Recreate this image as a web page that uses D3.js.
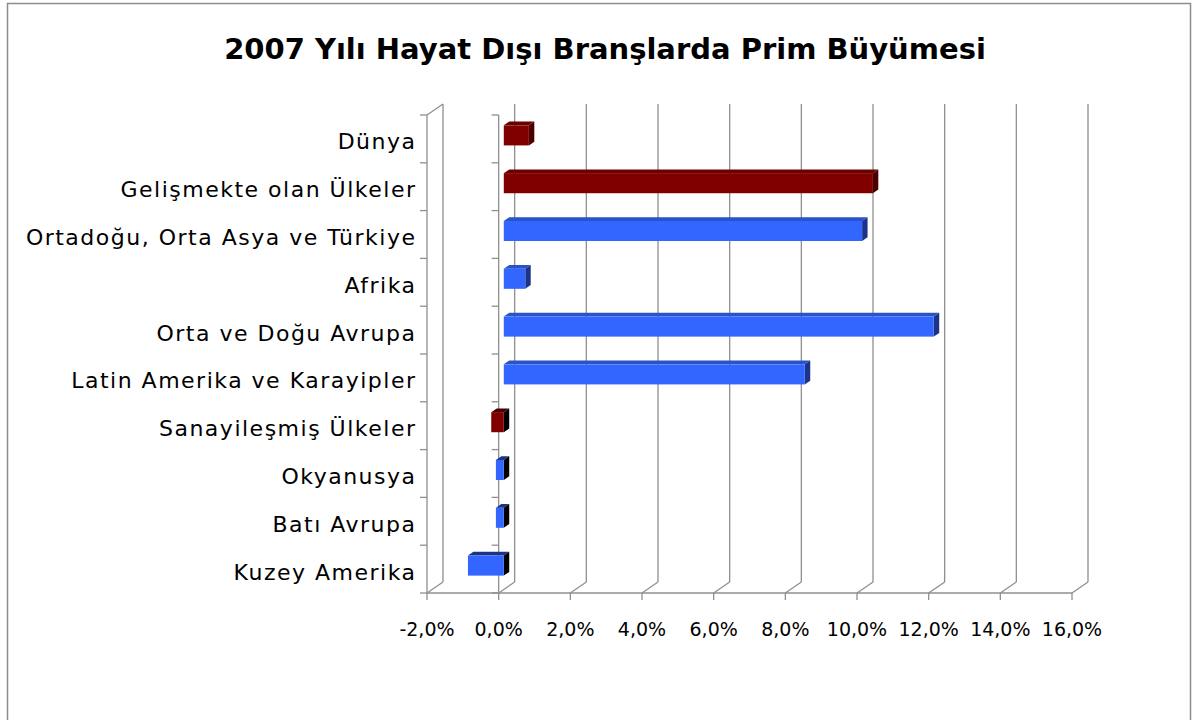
<!DOCTYPE html>
<html>
<head>
    <meta charset="utf-8">
    <title>2007 Yılı Hayat Dışı Branşlarda Prim Büyümesi</title>
    <script src="https://d3js.org/d3.v7.min.js"></script>
    <style>
        body { margin: 0; background: #fff; }
        text { font-family: "DejaVu Sans", Verdana, sans-serif; }
    </style>
</head>
<body>
    <svg id="chart"></svg>

    <script>
        // Data values
        const categories = [
            'Dünya', 'Gelişmekte olan Ülkeler', 'Ortadoğu, Orta Asya ve Türkiye', 'Afrika',
            'Orta ve Doğu Avrupa', 'Latin Amerika ve Karayipler', 'Sanayileşmiş Ülkeler',
            'Okyanusya', 'Batı Avrupa', 'Kuzey Amerika'
        ];
        const values = [0.7, 10.3, 10.0, 0.6, 12.0, 8.4, -0.35, -0.22, -0.22, -1.0];
        const groups = ['agg', 'agg', 'reg', 'reg', 'reg', 'reg', 'agg', 'reg', 'reg', 'reg'];
        const ticks = [-2, 0, 2, 4, 6, 8, 10, 12, 14, 16];

        const width = 1196;
        const height = 720;

        // colours per group: front, top, side
        const palette = {
            reg: { front: '#3366ff', top: '#2a52c9', side: '#1c3488' },
            agg: { front: '#800000', top: '#6a0000', side: '#4a0000' }
        };

        // depth of the 3D box
        const depthX = 16, depthY = -11;

        const x = d3.scaleLinear().domain([-2, 16]).range([427, 1072]);
        const y = d3.scaleBand().domain(categories).range([115, 593]);

        const svg = d3.select('#chart')
            .attr('width', width)
            .attr('height', height);

        // outer frame
        svg.append('rect')
            .attr('x', 7.5).attr('y', 3.5)
            .attr('width', 1183).attr('height', 730)
            .attr('fill', 'none').attr('stroke', '#8c8c8c').attr('stroke-width', 1.5);

        // title
        svg.append('text')
            .attr('x', 605).attr('y', 59)
            .attr('text-anchor', 'middle')
            .attr('font-size', 29).attr('font-weight', 'bold')
            .text('2007 Yılı Hayat Dışı Branşlarda Prim Büyümesi');

        const grid = svg.append('g')
            .attr('stroke', '#8f8f8f').attr('stroke-width', 1.3).attr('fill', 'none');

        // back wall gridlines
        grid.selectAll('.grid')
            .data(ticks)
            .enter()
            .append('line')
            .attr('x1', d => x(d) + depthX).attr('x2', d => x(d) + depthX)
            .attr('y1', y.range()[0] + depthY).attr('y2', y.range()[1] + depthY);

        // floor diagonals
        grid.selectAll('.floor')
            .data(ticks)
            .enter()
            .append('line')
            .attr('x1', d => x(d)).attr('x2', d => x(d) + depthX)
            .attr('y1', y.range()[1]).attr('y2', y.range()[1] + depthY);

        // side wall
        grid.append('line')
            .attr('x1', x(-2)).attr('x2', x(-2))
            .attr('y1', y.range()[0]).attr('y2', y.range()[1]);
        grid.append('line')
            .attr('x1', x(-2)).attr('x2', x(-2) + depthX)
            .attr('y1', y.range()[0]).attr('y2', y.range()[0] + depthY);

        // bottom axis line and ticks
        grid.append('line')
            .attr('x1', x(-2)).attr('x2', x(16))
            .attr('y1', y.range()[1]).attr('y2', y.range()[1]);
        grid.selectAll('.xtick')
            .data(ticks)
            .enter()
            .append('line')
            .attr('x1', d => x(d)).attr('x2', d => x(d))
            .attr('y1', y.range()[1]).attr('y2', y.range()[1] + 7);

        // category axis at zero, plus ticks on the side wall
        const bounds = categories.map(c => y(c)).concat([y.range()[1]]);
        grid.append('line')
            .attr('x1', x(0)).attr('x2', x(0))
            .attr('y1', y.range()[0]).attr('y2', y.range()[1]);
        [x(-2), x(0)].forEach(px => {
            grid.selectAll(null)
                .data(bounds)
                .enter()
                .append('line')
                .attr('x1', px - 7).attr('x2', px)
                .attr('y1', d => d).attr('y2', d => d);
        });

        // bars as 3D boxes
        const f0 = 0.32, f1 = 0.66;   // front and back depth of the bar
        const barH = y.bandwidth() * 0.42;
        const bars = categories.map((c, i) => {
            const v = values[i];
            const cy = y(c) + y.bandwidth() / 2;
            const xa = x(Math.min(0, v)), xb = x(Math.max(0, v));
            return { c, v, g: groups[i], xa, xb, top: cy - barH / 2, bot: cy + barH / 2 };
        });

        const barG = svg.append('g');
        bars.forEach(b => {
            const col = palette[b.g];
            const fx = depthX * f0, fy = depthY * f0;
            const bx = depthX * f1, by = depthY * f1;
            const pts = a => a.map(p => p.join(',')).join(' ');
            // top face
            barG.append('polygon')
                .attr('points', pts([[b.xa + fx, b.top + fy], [b.xb + fx, b.top + fy], [b.xb + bx, b.top + by], [b.xa + bx, b.top + by]]))
                .attr('fill', b.v < 0 ? col.side : col.top);
            // right face
            barG.append('polygon')
                .attr('points', pts([[b.xb + fx, b.top + fy], [b.xb + bx, b.top + by], [b.xb + bx, b.bot + by], [b.xb + fx, b.bot + fy]]))
                .attr('fill', b.v < 0 ? '#000000' : col.side);
            // front face
            barG.append('rect')
                .attr('x', b.xa + fx).attr('y', b.top + fy)
                .attr('width', b.xb - b.xa).attr('height', barH)
                .attr('fill', col.front);
        });

        // category labels
        svg.selectAll('.label')
            .data(categories)
            .enter()
            .append('text')
            .attr('x', 416.5)
            .attr('y', d => y(d) + y.bandwidth() / 2 + 3)
            .attr('text-anchor', 'end')
            .attr('dominant-baseline', 'central')
            .attr('font-size', 22)
            .attr('letter-spacing', 1.5)
            .text(d => d);

        // value tick labels
        svg.selectAll('.ticklabel')
            .data(ticks)
            .enter()
            .append('text')
            .attr('x', d => x(d))
            .attr('y', 636)
            .attr('text-anchor', 'middle')
            .attr('font-size', 19)
            .text(d => d.toFixed(1).replace('.', ',') + '%');
    </script>
</body>
</html>
